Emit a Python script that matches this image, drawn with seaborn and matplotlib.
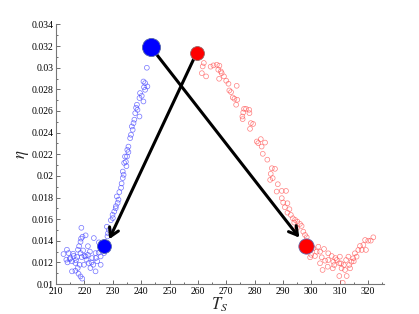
import numpy as np
import pandas as pd
import matplotlib
matplotlib.use("Agg")
import matplotlib.pyplot as plt
import seaborn as sns

# Blue cloud (T_s, eta)
blue_T = [212.6, 213.8, 214.4, 215.0, 213.6, 215.6, 216.2, 216.8, 217.4, 217.7,
          218.1, 218.6, 218.8, 218.9, 219.3, 218.6, 219.0, 218.3, 217.6, 216.8,
          215.6, 217.9, 218.6, 219.2, 220.4, 221.2, 221.9, 220.7, 221.5, 222.1,
          222.7, 223.3, 223.9, 224.5, 223.9, 225.1, 225.7, 226.3, 225.7, 223.1,
          219.8, 220.4, 221.2, 226.9, 227.5, 228.3, 228.1, 228.3, 228.6, 227.9,
          214.8, 216.0, 217.0, 219.5, 220.0, 222.5, 224.0, 225.0, 226.0, 214.0,
          229.3, 229.9, 230.5, 231.1, 231.7, 231.4, 232.3, 232.9, 233.1, 233.5,
          233.5, 234.0, 234.6, 235.0, 235.5, 230.0, 231.0, 232.0, 233.8, 234.8,
          234.3, 235.1, 235.5, 236.1, 237.0, 236.7, 237.3, 239.4, 237.9, 238.7,
          238.5, 240.8, 239.4, 239.6, 241.4, 242.2, 241.4, 240.8, 242.0, 236.4,
          237.6, 238.2, 240.2, 241.0]
blue_eta = [0.01277, 0.01317, 0.01286, 0.0124, 0.01225, 0.0121, 0.0126, 0.01194, 0.0125, 0.01317,
            0.0135, 0.0139, 0.0142, 0.0152, 0.01437, 0.01286, 0.01249, 0.01178, 0.01148, 0.01123,
            0.01117, 0.01095, 0.0107, 0.0105, 0.0145, 0.0135, 0.0130, 0.01225, 0.01194, 0.01148,
            0.0124, 0.01425, 0.01286, 0.0121, 0.01117, 0.01385, 0.01255, 0.0135, 0.01178, 0.01178,
            0.01178, 0.01255, 0.0127, 0.01286, 0.01317, 0.0135, 0.0144, 0.0147, 0.0150, 0.0153,
            0.0123, 0.0128, 0.0122, 0.0131, 0.0126, 0.0120, 0.0124, 0.0129, 0.0133, 0.0120,
            0.0159, 0.0164, 0.0167, 0.0172, 0.0175, 0.0181, 0.0185, 0.0189, 0.0193, 0.0198,
            0.0204, 0.0212, 0.0213, 0.0218, 0.0222, 0.0161, 0.0170, 0.0178, 0.0201, 0.0209,
            0.02179, 0.02241, 0.02271, 0.02349, 0.02426, 0.02457, 0.02488, 0.02549, 0.0258, 0.02611,
            0.02658, 0.02688, 0.0272, 0.02766, 0.02796, 0.02827, 0.02858, 0.02873, 0.0300, 0.0238,
            0.0252, 0.0263, 0.0274, 0.0282]

# Red cloud (T_s, eta)
red_T = [262.1, 261.7, 261.4, 262.9, 265.5, 266.7, 267.6, 267.2, 268.1, 268.4,
         269.2, 267.5, 270.8, 273.7, 271.1, 271.7, 272.3, 272.9, 273.9, 273.5,
         276.3, 278.1, 276.0, 278.2, 275.7, 275.8, 278.7, 278.4, 280.8, 281.3,
         282.2, 283.7, 282.5, 282.9, 286.1, 287.2, 285.7, 285.5, 286.4, 288.2,
         287.8, 289.6, 291.1, 289.6, 290.1, 291.6, 290.7, 292.3, 291.6, 292.8,
         293.5, 294.3, 294.0, 295.1, 296.0, 296.6, 294.9, 297.2, 297.8, 298.4,
         300.7, 301.9, 302.5, 301.3, 299.6, 304.5, 303.1, 303.7, 306.0, 306.0,
         304.0, 305.8, 307.2, 307.8, 308.1, 307.6, 309.0, 309.9, 310.1, 310.7,
         309.9, 311.1, 312.5, 311.5, 312.3, 313.1, 313.4, 314.2, 314.8, 315.4,
         316.0, 316.6, 317.8, 317.2, 318.4, 319.0, 320.1, 321.0, 321.9, 319.3,
         303.1, 304.9, 311.9, 313.7, 299.0, 300.0, 308.5, 310.5, 315.0, 284.5,
         279.5, 277.0, 270.0, 264.5]
red_eta = [0.03044, 0.03012, 0.0295, 0.0292, 0.03022, 0.03028, 0.03019, 0.02982, 0.02966, 0.0295,
           0.0292, 0.02898, 0.02852, 0.02833, 0.0279, 0.02775, 0.02725, 0.02713, 0.02704, 0.02658,
           0.0262, 0.02611, 0.02586, 0.0258, 0.02549, 0.02525, 0.02488, 0.02435, 0.02318, 0.02303,
           0.0234, 0.02308, 0.02271, 0.02204, 0.02071, 0.02065, 0.02019, 0.01963, 0.01979, 0.01923,
           0.01855, 0.01861, 0.01861, 0.01794, 0.01753, 0.01747, 0.0171, 0.01692, 0.0166, 0.01639,
           0.01608, 0.01593, 0.01568, 0.01577, 0.01556, 0.01537, 0.01516, 0.01484, 0.01454, 0.01432,
           0.01331, 0.01299, 0.01345, 0.01259, 0.01247, 0.01324, 0.01299, 0.01247, 0.01284, 0.01222,
           0.0113, 0.0116, 0.01259, 0.01206, 0.01176, 0.01145, 0.01222, 0.01192, 0.01253, 0.01145,
           0.01074, 0.01012, 0.01074, 0.01176, 0.01222, 0.01253, 0.01176, 0.01206, 0.01238, 0.01284,
           0.01253, 0.01315, 0.01315, 0.01352, 0.01361, 0.01407, 0.01401, 0.01401, 0.01432, 0.01315,
           0.01192, 0.01216, 0.0113, 0.01145, 0.0131, 0.0127, 0.0124, 0.0119, 0.0121, 0.0215,
           0.0248, 0.0262, 0.0288, 0.0301]

# Highlighted states
blue_start = (243.3, 0.03195)
blue_end = (227.0, 0.01355)
red_start = (259.6, 0.0314)
red_end = (298.2, 0.01355)
# Arrow tips
tip_to_blue = (228.7, 0.01414)
tip_to_red = (295.8, 0.01429)

sns.set_style("ticks")
plt.rcParams["font.family"] = ["Liberation Serif", "DejaVu Serif"]
plt.rcParams["mathtext.fontset"] = "stix"

fig = plt.figure(figsize=(4.19, 3.14), dpi=100)
ax = fig.add_axes([0.134, 0.0955, 0.782, 0.8265])

sns.scatterplot(x=blue_T, y=blue_eta, ax=ax, marker="o", s=12,
                facecolor="none", edgecolor="#4444ff", linewidth=0.5, alpha=0.75)
sns.scatterplot(x=red_T, y=red_eta, ax=ax, marker="o", s=12,
                facecolor="none", edgecolor="#ff5555", linewidth=0.5, alpha=0.75)

# Arrows (drawn below the big markers)
ax.annotate("", xy=tip_to_blue, xytext=red_start,
            arrowprops=dict(arrowstyle="->,head_length=0.6,head_width=0.35",
                            color="black", lw=2.2, shrinkA=0, shrinkB=0))
ax.annotate("", xy=tip_to_red, xytext=blue_start,
            arrowprops=dict(arrowstyle="->,head_length=0.6,head_width=0.35",
                            color="black", lw=2.2, shrinkA=0, shrinkB=0))

ax.plot(*blue_start, "o", ms=13, color="#0000ff", mec="#5566aa", mew=0.6, zorder=5)
ax.plot(*red_start, "o", ms=10, color="#ff0000", mec="#996666", mew=0.6, zorder=5)
ax.plot(*blue_end, "o", ms=10, color="#0000ff", mec="#5566aa", mew=0.6, zorder=5)
ax.plot(*red_end, "o", ms=11, color="#ff0000", mec="#6666aa", mew=0.6, zorder=5)

ax.set_xlim(210, 325.6)
ax.set_ylim(0.01, 0.034)
ax.set_xticks(np.arange(210, 321, 10))
ax.set_xticks(np.arange(215, 326, 5), minor=True)
ax.set_yticks(np.arange(0.01, 0.0341, 0.002))
ax.set_yticks(np.arange(0.011, 0.034, 0.002), minor=True)
ax.set_yticklabels(["0.01", "0.012", "0.014", "0.016", "0.018", "0.02", "0.022",
                    "0.024", "0.026", "0.028", "0.03", "0.032", "0.034"])
ax.tick_params(which="both", direction="in", labelsize=7, colors="#555555",
               labelcolor="black", width=0.6)
ax.tick_params(which="major", length=3)
ax.tick_params(which="minor", length=1.5)
ax.tick_params(axis="x", pad=2)
ax.tick_params(axis="y", pad=2)

sns.despine(ax=ax)
for sp in ("left", "bottom"):
    ax.spines[sp].set_color("#777777")
    ax.spines[sp].set_linewidth(0.8)

ax.set_xlabel("$T_S$", fontsize=12, labelpad=0)
ax.set_ylabel(r"$\eta$", fontsize=12, labelpad=0)

fig.savefig("out.png", dpi=100)
